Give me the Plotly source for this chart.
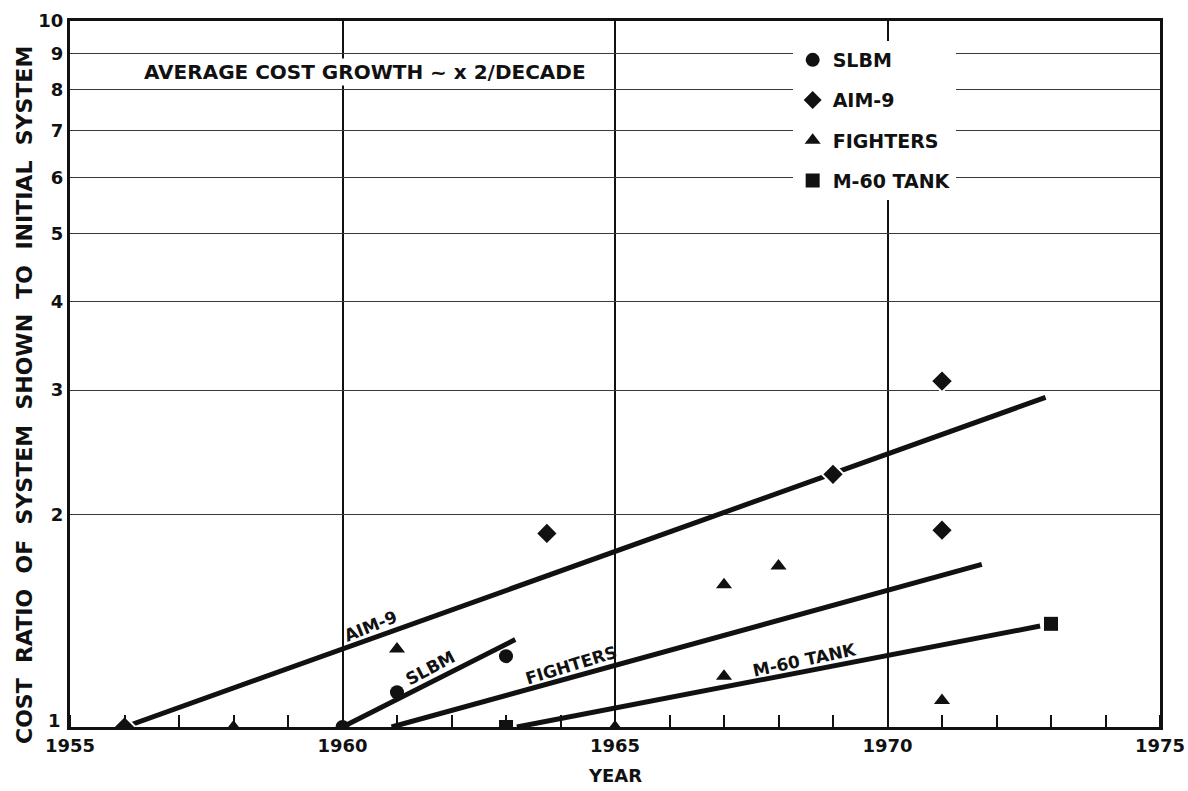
import numpy as np
import plotly.graph_objects as go

# ---- data: cost ratio of each system relative to the initial system ----
slbm_years = [1960.0, 1961.0, 1963.0]
slbm_ratio = [1.00, 1.12, 1.26]

aim9_years = [1956.0, 1963.75, 1969.0, 1971.0, 1971.0]
aim9_ratio = [1.00, 1.88, 2.28, 3.09, 1.90]

fighter_years = [1958.0, 1961.0, 1963.0, 1965.0, 1967.0, 1967.0, 1968.0, 1971.0]
fighter_ratio = [1.00, 1.29, 1.00, 1.00, 1.18, 1.59, 1.69, 1.09]

tank_years = [1963.0, 1973.0]
tank_ratio = [1.00, 1.40]

# trend lines (start, end)
aim9_trend_years = [1956.0, 1972.9]
aim9_trend_ratio = [1.00, 2.93]
slbm_trend_years = [1960.0, 1963.17]
slbm_trend_ratio = [1.00, 1.33]
fighter_trend_years = [1960.9, 1971.73]
fighter_trend_ratio = [1.00, 1.70]
tank_trend_years = [1963.2, 1972.8]
tank_trend_ratio = [1.00, 1.39]

x_ticks = [1955, 1960, 1965, 1970, 1975]
y_ticks = [1, 2, 3, 4, 5, 6, 7, 8, 9, 10]

FONT = "DejaVu Sans"
INK = "#111111"
NB = "\u00a0"

W, H = 1188, 791
ML, MR, MT, MB = 70, 28, 21, 64
PW, PH = W - ML - MR, H - MT - MB
BOTTOM = H - MB


def px_x(px):
    return (px - ML) / PW


def px_y(py):
    return (BOTTOM - py) / PH


fig = go.Figure()

# trend lines
for xs, ys in [(aim9_trend_years, aim9_trend_ratio),
               (slbm_trend_years, slbm_trend_ratio),
               (fighter_trend_years, fighter_trend_ratio),
               (tank_trend_years, tank_trend_ratio)]:
    fig.add_trace(go.Scatter(x=xs, y=ys, mode="lines",
                             line=dict(color=INK, width=5),
                             showlegend=False, hoverinfo="skip"))

# data points
series = [
    ("SLBM", slbm_years, slbm_ratio, "circle", 14, 1),
    ("AIM-9", aim9_years, aim9_ratio, "diamond", 17, 2),
    ("FIGHTERS", fighter_years, fighter_ratio, "triangle-up", 14, 3),
    ("M-60 TANK", tank_years, tank_ratio, "square", 14, 4),
]
for name, xs, ys, sym, size, grp in series:
    fig.add_trace(go.Scatter(
        x=xs, y=ys, mode="markers", name=name,
        legendgroup=f"g{grp}",
        marker=dict(symbol=sym, size=size, color=INK,
                    line=dict(color="white", width=2 if sym == "diamond" else 0)),
    ))

fig.update_layout(
    width=W, height=H,
    margin=dict(l=ML, r=MR, t=MT, b=MB),
    paper_bgcolor="white", plot_bgcolor="white",
    font=dict(family=FONT, size=17, color=INK, weight=700),
    showlegend=True,
    legend=dict(x=0.663, y=px_y(41), xanchor="left", yanchor="top",
                bgcolor="white", borderwidth=0, tracegroupgap=12.5,
                font=dict(family=FONT, size=19, color=INK, weight=700),
                itemsizing="trace", entrywidth=230),
)

fig.update_xaxes(
    range=[1955, 1975], tickvals=x_ticks, ticktext=[str(v) for v in x_ticks],
    showgrid=True, gridcolor=INK, gridwidth=1.5,
    showline=True, linecolor=INK, linewidth=3, mirror=True,
    ticks="", zeroline=False, automargin=False,
    minor=dict(dtick=1, ticks="inside", ticklen=12, tickwidth=2,
               tickcolor=INK, showgrid=False),
    tickfont=dict(size=18),
)
# the "1" label is placed separately, just above the year labels
fig.update_yaxes(
    type="log", range=[0, 1], tickvals=y_ticks,
    ticktext=["" if v == 1 else str(v) for v in y_ticks],
    showgrid=True, gridcolor="#3a3a3a", gridwidth=1,
    showline=True, linecolor=INK, linewidth=3, mirror=True,
    ticks="", zeroline=False, automargin=False, tickfont=dict(size=18),
)

ytitle = "COST RATIO OF SYSTEM SHOWN TO INITIAL SYSTEM".replace(" ", NB + " ")
annotations = [
    dict(text="AVERAGE COST GROWTH ~ x 2/DECADE", xref="paper", yref="paper",
         x=px_x(365), y=px_y(72), xanchor="center", yanchor="middle",
         showarrow=False, bgcolor="white", font=dict(size=20)),
    dict(text=ytitle, xref="paper", yref="paper",
         x=0, xshift=-46, y=px_y(395), xanchor="center", yanchor="middle",
         textangle=-90, showarrow=False, font=dict(size=22)),
    dict(text="YEAR", xref="paper", yref="paper", x=0.5, y=px_y(775),
         xanchor="center", yanchor="middle", showarrow=False, font=dict(size=18)),
    dict(text="1", xref="paper", yref="paper", x=0, xshift=-7, y=px_y(720),
         xanchor="right", yanchor="middle", showarrow=False, font=dict(size=18)),
]
# labels along the trend lines
for text, lx, lr, ang in [("AIM-9", 1960.52, 10 ** 0.1425, -22),
                          ("SLBM", 1961.61, 10 ** 0.0832, -28),
                          ("FIGHTERS", 1964.21, 10 ** 0.0874, -17),
                          ("M-60 TANK", 1968.47, 10 ** 0.0945, -12)]:
    annotations.append(dict(text=text, x=lx, y=np.log10(lr), xref="x", yref="y",
                            textangle=ang, showarrow=False,
                            xanchor="center", yanchor="middle", font=dict(size=17)))
fig.update_layout(annotations=annotations)

fig.write_html("out.html")
